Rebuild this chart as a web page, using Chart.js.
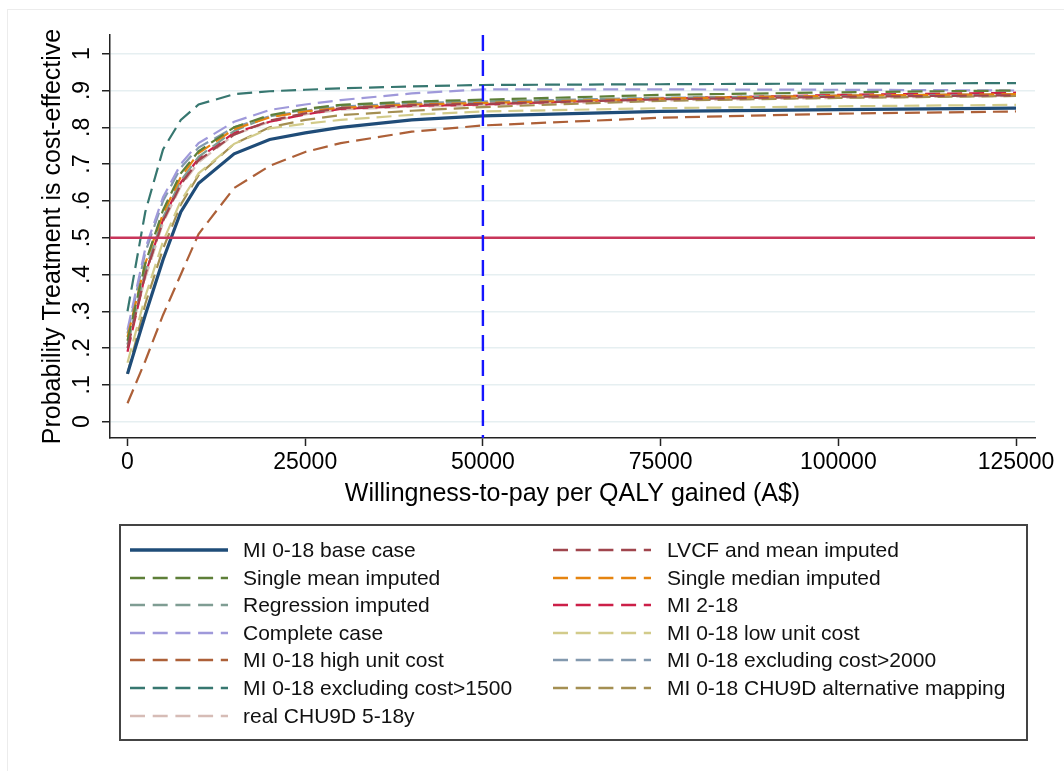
<!DOCTYPE html>
<html>
<head>
<meta charset="utf-8">
<script src="https://cdn.jsdelivr.net/npm/chart.js@4.4.1/dist/chart.umd.min.js"></script>
<style>
html,body{margin:0;padding:0;background:#fff;}
#wrap{position:relative;width:1064px;height:771px;overflow:hidden;font-family:"Liberation Sans",Arial,sans-serif;background:#fff;}
#c{position:absolute;left:0;top:0;}
#frame{position:absolute;left:7px;top:9px;width:1100px;height:800px;border-left:1px solid #ececec;border-top:1px solid #ececec;pointer-events:none;}
#legendBox{position:absolute;left:119px;top:524px;width:909px;height:217px;box-sizing:border-box;border:2px solid #444;}
.item{position:absolute;height:28px;display:flex;align-items:center;font-size:21px;color:#111;white-space:nowrap;}
.item svg{display:block;}
</style>
</head>
<body>
<div id="wrap">
  <div id="frame"></div>
  <canvas id="c" width="1064" height="771"></canvas>
  <div id="legendBox"></div>
  <div id="legendItems"></div>
</div>
<script>
// ---- data ----
const WTP = [0, 2500, 5000, 7500, 10000, 15000, 20000, 25000, 30000, 40000, 50000, 75000, 100000, 125000];

const miBaseCase      = [0.13, 0.29, 0.44, 0.57, 0.648, 0.728, 0.767, 0.785, 0.800, 0.820, 0.831, 0.843, 0.848, 0.852];
const lvcfMean        = [0.20, 0.40, 0.545, 0.645, 0.710, 0.780, 0.818, 0.838, 0.852, 0.860, 0.864, 0.876, 0.883, 0.887];
const singleMean      = [0.22, 0.43, 0.575, 0.675, 0.735, 0.800, 0.833, 0.850, 0.861, 0.870, 0.875, 0.888, 0.895, 0.900];
const singleMedian    = [0.23, 0.43, 0.565, 0.665, 0.730, 0.795, 0.827, 0.843, 0.853, 0.862, 0.866, 0.878, 0.886, 0.890];
const regression      = [0.21, 0.41, 0.555, 0.655, 0.720, 0.790, 0.830, 0.848, 0.860, 0.866, 0.870, 0.880, 0.885, 0.888];
const mi218           = [0.19, 0.40, 0.550, 0.650, 0.716, 0.785, 0.815, 0.835, 0.850, 0.858, 0.862, 0.878, 0.888, 0.894];
const completeCase    = [0.25, 0.47, 0.610, 0.700, 0.757, 0.815, 0.847, 0.862, 0.874, 0.892, 0.903, 0.903, 0.902, 0.900];
const lowUnitCost     = [0.16, 0.34, 0.490, 0.600, 0.675, 0.755, 0.797, 0.810, 0.820, 0.834, 0.843, 0.852, 0.857, 0.861];
const highUnitCost    = [0.05, 0.165, 0.290, 0.400, 0.510, 0.635, 0.695, 0.733, 0.757, 0.788, 0.805, 0.826, 0.837, 0.843];
const excl2000        = [0.24, 0.46, 0.600, 0.690, 0.745, 0.800, 0.830, 0.845, 0.856, 0.866, 0.870, 0.880, 0.886, 0.890];
const excl1500        = [0.30, 0.57, 0.740, 0.820, 0.862, 0.890, 0.898, 0.902, 0.906, 0.911, 0.915, 0.917, 0.919, 0.920];
const altMapping      = [0.13, 0.32, 0.470, 0.590, 0.670, 0.755, 0.800, 0.820, 0.833, 0.845, 0.855, 0.872, 0.880, 0.885];
const realChu9d       = [0.21, 0.39, 0.540, 0.640, 0.705, 0.780, 0.815, 0.835, 0.848, 0.856, 0.860, 0.873, 0.880, 0.885];

const SERIES_NAMES = [
  'MI 0-18 base case', 'LVCF and mean imputed',
  'Single mean imputed', 'Single median imputed',
  'Regression imputed', 'MI 2-18',
  'Complete case', 'MI 0-18 low unit cost',
  'MI 0-18 high unit cost', 'MI 0-18 excluding cost>2000',
  'MI 0-18 excluding cost>1500', 'MI 0-18 CHU9D alternative mapping',
  'real CHU9D 5-18y'
];
const SERIES_VALUES = [miBaseCase, lvcfMean, singleMean, singleMedian, regression, mi218,
  completeCase, lowUnitCost, highUnitCost, excl2000, excl1500, altMapping, realChu9d];

const X_TICKS = [0, 25000, 50000, 75000, 100000, 125000];
const Y_TICKS = [0, 0.1, 0.2, 0.3, 0.4, 0.5, 0.6, 0.7, 0.8, 0.9, 1];
const Y_TICK_LABELS = ['0', '.1', '.2', '.3', '.4', '.5', '.6', '.7', '.8', '.9', '1'];
const THRESHOLD_PROB = 0.5;
const THRESHOLD_WTP = 50000;

// ---- styles ----
const COLORS = ['#1f4c78', '#a0454d', '#5e7f38', '#e58410', '#7f9d93', '#cc1f48',
  '#9f99da', '#d2cb8a', '#ad6038', '#8399ae', '#377770', '#a48f52', '#d6bcb6'];
const FONT = '"Liberation Sans", Arial, sans-serif';

const datasets = SERIES_VALUES.map((vals, i) => ({
  label: SERIES_NAMES[i],
  data: WTP.map((x, j) => ({x: x, y: vals[j]})),
  borderColor: COLORS[i],
  backgroundColor: COLORS[i],
  borderWidth: i === 0 ? 3.2 : 2.2,
  borderDash: i === 0 ? [] : [15, 7],
  pointRadius: 0,
  tension: 0,
  fill: false,
  order: i === 0 ? -1 : i
}));

const refLines = {
  id: 'refLines',
  afterDatasetsDraw(chart) {
    const {ctx, chartArea, scales} = chart;
    ctx.save();
    const y = scales.y.getPixelForValue(THRESHOLD_PROB);
    ctx.strokeStyle = '#c8355a';
    ctx.lineWidth = 2.4;
    ctx.beginPath();
    ctx.moveTo(chartArea.left, y);
    ctx.lineTo(chartArea.right, y);
    ctx.stroke();
    const x = scales.x.getPixelForValue(THRESHOLD_WTP);
    ctx.strokeStyle = '#1515ff';
    ctx.lineWidth = 2.4;
    ctx.setLineDash([16, 9]);
    ctx.beginPath();
    ctx.moveTo(x, chartArea.top);
    ctx.lineTo(x, chartArea.bottom);
    ctx.stroke();
    ctx.restore();
  }
};

Chart.defaults.font.family = FONT;
new Chart(document.getElementById('c'), {
  type: 'line',
  data: {datasets},
  options: {
    responsive: false,
    animation: false,
    devicePixelRatio: 1,
    layout: {padding: {left: 0, right: 29, top: 35, bottom: 771 - 438 - 71}},
    plugins: {legend: {display: false}, tooltip: {enabled: false}},
    scales: {
      x: {
        type: 'linear',
        min: -2462, max: 127672,
        afterBuildTicks: s => { s.ticks = X_TICKS.map(v => ({value: v})); },
        afterFit: s => { s.height = 71; },
        ticks: {font: {size: 23, family: FONT}, color: '#000', padding: 3, maxRotation: 0, autoSkip: false,
          callback: v => String(v)},
        grid: {drawOnChartArea: false, tickLength: 8, tickColor: '#222', tickWidth: 1.5},
        border: {display: true, color: '#222', width: 1.5},
        title: {display: true, text: 'Willingness-to-pay per QALY gained (A$)', color: '#000',
          font: {size: 25, family: FONT}, padding: {top: 0, bottom: 0}}
      },
      y: {
        type: 'linear',
        min: -0.0443, max: 1.0508,
        afterBuildTicks: s => { s.ticks = Y_TICKS.map(v => ({value: v})); },
        afterFit: s => { s.width = 110; },
        ticks: {font: {size: 23, family: FONT}, color: '#000', padding: 10, autoSkip: false,
          minRotation: 90, maxRotation: 90, crossAlign: 'center',
          callback: (v, i) => Y_TICK_LABELS[i]},
        grid: {color: '#e6eff1', lineWidth: 1.5, tickLength: 8, tickColor: '#222', tickWidth: 1.5},
        border: {display: true, color: '#222', width: 1.5},
        title: {display: true, text: 'Probability Treatment is cost-effective', color: '#000',
          font: {size: 25, family: FONT}, padding: {top: 38, bottom: 0}}
      }
    }
  },
  plugins: [refLines]
});

// ---- legend (HTML, two columns, row-major order as in the reference) ----
const legendHost = document.getElementById('legendItems');
SERIES_NAMES.forEach((name, i) => {
  const col = i % 2, row = Math.floor(i / 2);
  const div = document.createElement('div');
  div.className = 'item';
  div.style.left = (col === 0 ? 130 : 553) + 'px';
  div.style.top = (536 + row * 27.6) + 'px';
  const dash = i === 0 ? '' : 'stroke-dasharray="15 7.7"';
  const w = i === 0 ? 3.6 : 2.6;
  div.innerHTML = '<svg width="98" height="10"><line x1="0" y1="5" x2="98" y2="5" stroke="' + COLORS[i] +
    '" stroke-width="' + w + '" ' + dash + '/></svg><span style="margin-left:' + (col === 0 ? 15 : 16) + 'px">' + name + '</span>';
  legendHost.appendChild(div);
});
</script>
</body>
</html>
